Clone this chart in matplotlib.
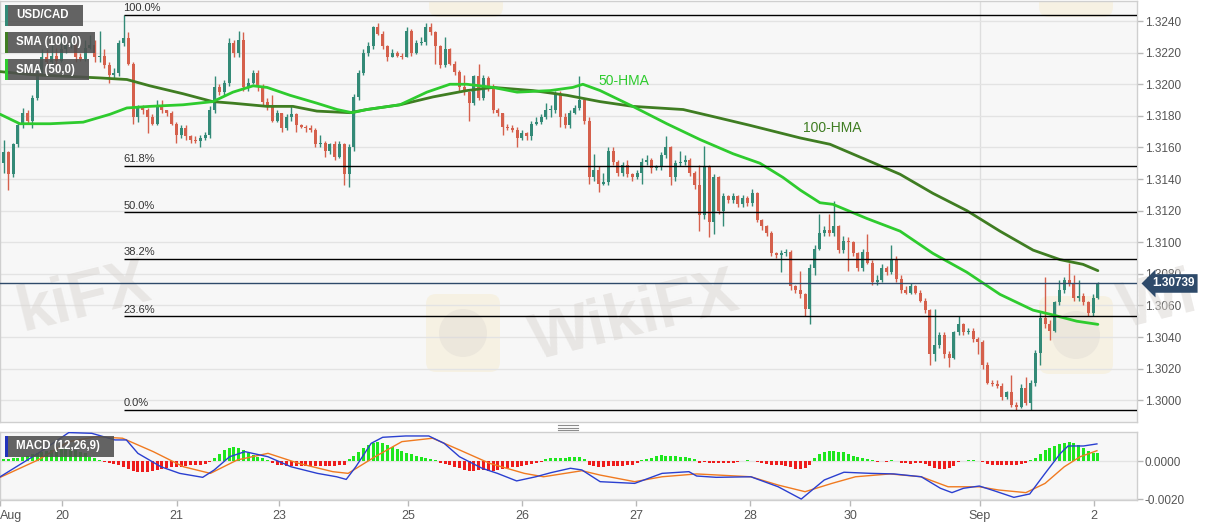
import numpy as np
import matplotlib
matplotlib.use('Agg')
import matplotlib.pyplot as plt
import matplotlib.transforms as mtransforms
from matplotlib.patches import Rectangle, FancyBboxPatch, Circle
from matplotlib.lines import Line2D

plt.rcParams['font.family'] = ['Liberation Sans', 'DejaVu Sans']

# ---- USD/CAD hourly candles (Aug 19 -> Sep 2) ----
first_open = 1.3150
closes = [
    1.3157, 1.3143, 1.3162, 1.3174, 1.3182, 1.3177, 1.3191, 1.3207, 1.3217, 1.3214,
    1.3218, 1.3215, 1.3222, 1.3225, 1.3226, 1.3217, 1.3216, 1.3223, 1.3225, 1.3217,
    1.3218, 1.3212, 1.3206, 1.3207, 1.3226, 1.3229, 1.3213, 1.3179, 1.3186, 1.3184,
    1.3179, 1.3175, 1.3187, 1.3184, 1.3182, 1.3175, 1.3168, 1.3172, 1.3167, 1.3165,
    1.3164, 1.3166, 1.3168, 1.3184, 1.3198, 1.3195, 1.3201, 1.3226, 1.3220, 1.3228,
    1.3198, 1.3201, 1.3207, 1.3198, 1.3189, 1.3186, 1.3177, 1.3182, 1.3172, 1.3179,
    1.3181, 1.3174, 1.3173, 1.3172, 1.3171, 1.3162, 1.3163, 1.3158, 1.3162, 1.3154,
    1.3162, 1.3143, 1.3160, 1.3192, 1.3207, 1.3220, 1.3224, 1.3236, 1.3232, 1.3224,
    1.3217, 1.3220, 1.3218, 1.3217, 1.3234, 1.3220, 1.3226, 1.3227, 1.3236, 1.3233,
    1.3224, 1.3212, 1.3222, 1.3213, 1.3208, 1.3198, 1.3195, 1.3188, 1.3205, 1.3191,
    1.3204, 1.3198, 1.3184, 1.3182, 1.3173, 1.3172, 1.3171, 1.3166, 1.3169, 1.3167,
    1.3175, 1.3176, 1.3179, 1.3184, 1.3184, 1.3194, 1.3179, 1.3174, 1.3182, 1.3185,
    1.3190, 1.3177, 1.3141, 1.3146, 1.3137, 1.3138, 1.3158, 1.3151, 1.3144, 1.3149,
    1.3143, 1.3141, 1.3144, 1.3151, 1.3152, 1.3147, 1.3148, 1.3155, 1.3160, 1.3141,
    1.3150, 1.3151, 1.3152, 1.3144, 1.3136, 1.3117, 1.3148, 1.3113, 1.3141, 1.3120,
    1.3129, 1.3127, 1.3129, 1.3124, 1.3128, 1.3125, 1.3131, 1.3114, 1.3110, 1.3106,
    1.3093, 1.3092, 1.3093, 1.3094, 1.3072, 1.3070, 1.3067, 1.3058, 1.3084, 1.3096,
    1.3106, 1.3108, 1.3106, 1.3110, 1.3095, 1.3101, 1.3100, 1.3093, 1.3084, 1.3094,
    1.3087, 1.3075, 1.3076, 1.3084, 1.3081, 1.3089, 1.3077, 1.3070, 1.3068, 1.3072,
    1.3068, 1.3063, 1.3057, 1.3029, 1.3035, 1.3041, 1.3029, 1.3027, 1.3043, 1.3048,
    1.3043, 1.3044, 1.3039, 1.3037, 1.3022, 1.3011, 1.3010, 1.3009, 1.3002, 1.3005,
    1.2997, 1.2996, 1.3008, 1.2998, 1.3011, 1.3030, 1.3052, 1.3048, 1.3044, 1.3062,
    1.3070, 1.3076, 1.3074, 1.3065, 1.3066, 1.3062, 1.3055, 1.3065, 1.30739,
]
highs = [
    1.3165, 1.3158, 1.3163, 1.3176, 1.3185, 1.3184, 1.3193, 1.3209, 1.3222, 1.3222,
    1.3225, 1.3223, 1.3232, 1.3229, 1.3231, 1.3228, 1.3220, 1.3228, 1.3231, 1.3228,
    1.3234, 1.3222, 1.3214, 1.3210, 1.3228, 1.3244, 1.3233, 1.3214, 1.3187, 1.3187,
    1.3185, 1.3181, 1.3190, 1.3190, 1.3184, 1.3183, 1.3176, 1.3174, 1.3174, 1.3168,
    1.3167, 1.3168, 1.3170, 1.3186, 1.3205, 1.3200, 1.3203, 1.3229, 1.3228, 1.3234,
    1.3233, 1.3204, 1.3209, 1.3209, 1.3200, 1.3191, 1.3193, 1.3184, 1.3182, 1.3181,
    1.3186, 1.3182, 1.3175, 1.3174, 1.3174, 1.3172, 1.3168, 1.3164, 1.3163, 1.3164,
    1.3164, 1.3163, 1.3162, 1.3194, 1.3209, 1.3222, 1.3227, 1.3237, 1.3239, 1.3234,
    1.3225, 1.3222, 1.3221, 1.3220, 1.3236, 1.3235, 1.3228, 1.3230, 1.3239, 1.3239,
    1.3234, 1.3225, 1.3230, 1.3223, 1.3215, 1.3209, 1.3206, 1.3196, 1.3206, 1.3213,
    1.3206, 1.3205, 1.3200, 1.3185, 1.3182, 1.3175, 1.3174, 1.3173, 1.3171, 1.3170,
    1.3177, 1.3179, 1.3181, 1.3188, 1.3187, 1.3196, 1.3196, 1.3182, 1.3184, 1.3187,
    1.3205, 1.3191, 1.3179, 1.3156, 1.3148, 1.3144, 1.3160, 1.3160, 1.3152, 1.3151,
    1.3152, 1.3144, 1.3146, 1.3153, 1.3155, 1.3153, 1.3149, 1.3157, 1.3167, 1.3161,
    1.3152, 1.3158, 1.3155, 1.3153, 1.3145, 1.3149, 1.3161, 1.3149, 1.3143, 1.3142,
    1.3131, 1.3130, 1.3131, 1.3130, 1.3130, 1.3129, 1.3134, 1.3132, 1.3115, 1.3111,
    1.3107, 1.3094, 1.3095, 1.3096, 1.3095, 1.3073, 1.3082, 1.3068, 1.3086, 1.3098,
    1.3118, 1.3110, 1.3118, 1.3126, 1.3111, 1.3104, 1.3103, 1.3101, 1.3094, 1.3096,
    1.3105, 1.3089, 1.3079, 1.3086, 1.3085, 1.3098, 1.3091, 1.3079, 1.3072, 1.3074,
    1.3073, 1.3070, 1.3065, 1.3058, 1.3058, 1.3043, 1.3043, 1.3031, 1.3044, 1.3053,
    1.3049, 1.3046, 1.3046, 1.3040, 1.3038, 1.3024, 1.3013, 1.3013, 1.3011, 1.3006,
    1.3016, 1.2999, 1.3010, 1.3015, 1.3013, 1.3032, 1.3056, 1.3078, 1.3051, 1.3063,
    1.3076, 1.3078, 1.3087, 1.3079, 1.3076, 1.3068, 1.3063, 1.3067, 1.3075,
]
lows = [
    1.3144, 1.3133, 1.3141, 1.3160, 1.3172, 1.3175, 1.3172, 1.3190, 1.3205, 1.3212,
    1.3213, 1.3213, 1.3214, 1.3220, 1.3223, 1.3214, 1.3215, 1.3215, 1.3222, 1.3214,
    1.3214, 1.3210, 1.3201, 1.3204, 1.3205, 1.3224, 1.3212, 1.3175, 1.3176, 1.3181,
    1.3169, 1.3174, 1.3174, 1.3182, 1.3180, 1.3174, 1.3163, 1.3166, 1.3165, 1.3163,
    1.3163, 1.3160, 1.3165, 1.3166, 1.3182, 1.3193, 1.3193, 1.3199, 1.3217, 1.3217,
    1.3196, 1.3196, 1.3200, 1.3196, 1.3187, 1.3184, 1.3176, 1.3176, 1.3170, 1.3171,
    1.3177, 1.3170, 1.3172, 1.3170, 1.3170, 1.3160, 1.3160, 1.3154, 1.3156, 1.3152,
    1.3153, 1.3136, 1.3135, 1.3158, 1.3190, 1.3206, 1.3218, 1.3222, 1.3231, 1.3222,
    1.3215, 1.3217, 1.3217, 1.3216, 1.3217, 1.3218, 1.3219, 1.3225, 1.3225, 1.3231,
    1.3213, 1.3210, 1.3211, 1.3212, 1.3206, 1.3196, 1.3193, 1.3177, 1.3187, 1.3190,
    1.3190, 1.3196, 1.3182, 1.3180, 1.3168, 1.3171, 1.3170, 1.3160, 1.3165, 1.3165,
    1.3165, 1.3174, 1.3175, 1.3178, 1.3179, 1.3182, 1.3173, 1.3172, 1.3172, 1.3181,
    1.3184, 1.3175, 1.3137, 1.3139, 1.3132, 1.3136, 1.3136, 1.3149, 1.3142, 1.3142,
    1.3141, 1.3139, 1.3140, 1.3137, 1.3149, 1.3144, 1.3146, 1.3146, 1.3153, 1.3136,
    1.3139, 1.3148, 1.3149, 1.3142, 1.3134, 1.3107, 1.3115, 1.3103, 1.3105, 1.3118,
    1.3110, 1.3125, 1.3125, 1.3122, 1.3122, 1.3123, 1.3123, 1.3113, 1.3108, 1.3104,
    1.3091, 1.3090, 1.3081, 1.3091, 1.3070, 1.3068, 1.3065, 1.3053, 1.3048, 1.3079,
    1.3095, 1.3104, 1.3104, 1.3104, 1.3093, 1.3093, 1.3082, 1.3091, 1.3082, 1.3082,
    1.3086, 1.3073, 1.3073, 1.3075, 1.3079, 1.3080, 1.3075, 1.3068, 1.3067, 1.3067,
    1.3067, 1.3062, 1.3055, 1.3022, 1.3025, 1.3033, 1.3027, 1.3021, 1.3026, 1.3041,
    1.3041, 1.3042, 1.3037, 1.3029, 1.3020, 1.3010, 1.3009, 1.3008, 1.3000, 1.3001,
    1.2996, 1.2994, 1.2995, 1.2997, 1.2994, 1.3009, 1.3022, 1.3046, 1.3038, 1.3043,
    1.3060, 1.3068, 1.3072, 1.3063, 1.3063, 1.3060, 1.3053, 1.3053, 1.3064,
]
last_price = 1.30739

# Hull moving averages, read at candle positions
hma50_x = [-0.7, 3.4, 9.7, 16.6, 22.2, 25.7, 30.5, 37.4, 43.6, 47.8, 52.0, 54.9, 59.7, 65.3, 69.5,
           72.6, 75.7, 82.6, 88.2, 93.0, 96.5, 102, 107, 113.9, 118.6, 120.7, 124.3, 131.1, 138.2,
           145.1, 152, 157.6, 162.4, 166, 170.1, 172.8, 179.9, 186.8, 193.6, 200.7, 207.6, 214.5,
           218.6, 223.6, 228]
hma50_y = [1.3181, 1.3175, 1.3175, 1.3176, 1.3181, 1.3185, 1.3186, 1.3187, 1.3189, 1.3195, 1.3199,
           1.3198, 1.3193, 1.3188, 1.3184, 1.3182, 1.3184, 1.3187, 1.3195, 1.3200, 1.3200, 1.3198,
           1.3195, 1.3196, 1.3198, 1.3200, 1.3196, 1.3186, 1.3175, 1.3165, 1.3156, 1.3150, 1.3141,
           1.3133, 1.3125, 1.3124, 1.3115, 1.3107, 1.3093, 1.3081, 1.3067, 1.3057, 1.3054, 1.3050,
           1.3048]
hma100_x = [-0.7, 6.2, 13.2, 20.1, 25.7, 30.5, 37.4, 43.6, 47.8, 54.9, 60.3, 65.3, 72.2, 75.7, 82.6,
            89.5, 96.5, 102, 110.3, 117.4, 124.3, 131.1, 141.6, 148.6, 155.5, 166, 172.2, 179.9,
            186.8, 193.6, 200.7, 207.6, 214.5, 220.1, 224.9, 228]
hma100_y = [1.3208, 1.3206, 1.3205, 1.3204, 1.3203, 1.3199, 1.3194, 1.3189, 1.3188, 1.3186, 1.3186,
            1.3183, 1.3182, 1.3184, 1.3187, 1.3192, 1.3196, 1.3198, 1.3196, 1.3193, 1.3189, 1.3186,
            1.3184, 1.3179, 1.3174, 1.3166, 1.3162, 1.3152, 1.3143, 1.3131, 1.3120, 1.3107, 1.3095,
            1.3089, 1.3086, 1.3082]

# MACD (12,26,9)
macd_hist = [
    0.0001, 0.0001, 0.00015, 0.0002, 0.00025, 0.0003, 0.0004, 0.00045, 0.0005, 0.00055,
    0.0006, 0.00062, 0.00065, 0.00065, 0.00062, 0.00058, 0.0005, 0.00042, 0.00025, 0.00015,
    0.00005, -0.00005, -0.0001, -0.00015, -0.0002, -0.0003, -0.0004, -0.0005, -0.00055, -0.00058,
    -0.00055, -0.0005, -0.00045, -0.0004, -0.00035, -0.0003, -0.0003, -0.00028, -0.00025, -0.00022,
    -0.0002, -0.00018, -0.00012, -0.00005, 0.0002, 0.0004, 0.0006, 0.0007, 0.00075, 0.0007,
    0.0006, 0.00045, 0.00035, 0.00025, 0.00015, 0.00005, -0.0001, -0.00018, -0.00022, -0.00025,
    -0.00025, -0.00025, -0.00025, -0.00025, -0.00025, -0.00025, -0.00025, -0.00025, -0.00025, -0.00025,
    -0.00022, -0.0002, 0.0001, 0.0003, 0.0005, 0.0007, 0.00085, 0.00095, 0.001, 0.00095,
    0.00085, 0.00075, 0.00065, 0.00055, 0.00045, 0.00038, 0.0003, 0.00022, 0.00015, 0.0001,
    0.00005, -0.00008, -0.00015, -0.00022, -0.0003, -0.00038, -0.00045, -0.0005, -0.0005, -0.00048,
    -0.00048, -0.0005, -0.0005, -0.00045, -0.0004, -0.00035, -0.0003, -0.00028, -0.00025, -0.0002,
    -0.00015, -0.0001, -0.00005, 0.0001, 0.00015, 0.0002, 0.0002, 0.0002, 0.00022, 0.00025,
    0.00022, 0.0001, -0.0002, -0.00025, -0.0003, -0.0003, -0.00025, -0.00025, -0.00025, -0.00025,
    -0.00022, -0.0002, -0.0001, 0.00005, 0.00012, 0.0002, 0.00028, 0.00033, 0.0003, 0.00028,
    0.00026, 0.00025, 0.00025, 0.0002, 0.00012, -0.0001, -0.00005, -0.0001, -0.0001, -0.0001,
    -0.0001, -0.0001, -0.00008, -0.00005, 0.00002, 0.00005, 0.00002, -0.00005, -0.0001, -0.00015,
    -0.0002, -0.0002, -0.00022, -0.00025, -0.0003, -0.0004, -0.00042, -0.00038, -0.0002, 0.0002,
    0.0004, 0.0005, 0.00055, 0.00052, 0.0005, 0.00048, 0.0004, 0.0003, 0.00022, 0.00015,
    0.00012, 0.00008, -0.00002, 0.00002, -0.00002, 0.00005, 0.00002, -0.00008, -0.0001, -0.00012,
    -0.0001, -0.0001, -0.00012, -0.00025, -0.00035, -0.0004, -0.0004, -0.00038, -0.00025, -0.00005,
    0.00003, 0.00005, 0.00005, 0.00003, -0.00005, -0.00015, -0.0002, -0.0002, -0.00022, -0.0002,
    -0.00022, -0.0002, -0.00015, -0.0001, 0.00005, 0.0002, 0.0004, 0.0006, 0.0007, 0.0008,
    0.0009, 0.00095, 0.001, 0.00095, 0.00085, 0.0007, 0.00055, 0.00045, 0.00045,
]
macd_x = [-0.7, 7.2, 13.6, 18.4, 23.2, 25.6, 28, 32.8, 36.7, 41.5, 43.9, 47.1, 50.3, 55.1, 59.9,
          65.4, 69.4, 71.4, 73.4, 76.6, 79, 83.8, 88.6, 91.8, 95, 99.7, 102.9, 106.9, 110.9, 114.1,
          118.1, 120.5, 124.3, 131.5, 137.2, 142.8, 144.4, 148.5, 155.7, 161.4, 166.2, 171, 175.1,
          180.7, 185.5, 191.2, 195.2, 197.6, 200, 203.3, 206.5, 210.5, 213.8, 217, 220.2, 221.8,
          225, 227.8]
macd_y = [-0.00082, 0.00042, 0.00152, 0.00148, 0.00113, 0.00113, 0.00042, -0.00029, -0.00064,
          -0.00085, -0.00046, 0.00024, 0.00051, 0.00024, -0.00029, -0.00064, -0.00082, -0.00096,
          -0.00029, 0.00095, 0.00127, 0.00134, 0.00134, 0.00095, 0.00024, -0.00037, -0.00064,
          -0.00104, -0.00082, -0.0006, -0.00037, -0.00046, -0.00108, -0.00117, -0.00064, -0.00055,
          -0.00078, -0.00085, -0.00082, -0.00135, -0.002, -0.00099, -0.00058, -0.00064, -0.00067,
          -0.00082, -0.00143, -0.00166, -0.00143, -0.00131, -0.00157, -0.00191, -0.00173, -0.00064,
          0.00042, 0.00081, 0.00081, 0.00092]
signal_x = [-0.7, 7.2, 13.6, 19.2, 24.8, 31.2, 37.5, 43.1, 48.7, 55.1, 61.5, 68.6, 71.8, 77.4, 83,
            89.4, 95, 101.3, 108.5, 112.5, 120.5, 124.3, 131.5, 137.2, 144.4, 155.7, 161.4, 167,
            172.6, 177.5, 184.7, 191.2, 196.8, 203.3, 207.3, 213, 217, 221, 224.3, 227.8]
signal_y = [-0.00085, 0.00007, 0.00104, 0.0013, 0.00122, 0.00051, -0.00029, -0.00064, 0.00007,
            0.00042, -0.00011, -0.00055, -0.00064, 0.00024, 0.00104, 0.00122, 0.0006, -0.00011,
            -0.00064, -0.00082, -0.0005, -0.00073, -0.00108, -0.00082, -0.00067, -0.00082, -0.00126,
            -0.00161, -0.00117, -0.00082, -0.00067, -0.00082, -0.00135, -0.00135, -0.00152, -0.00166,
            -0.00117, -0.00029, 0.00024, 0.00056]

fib_ratios = [0.0, 0.236, 0.382, 0.5, 0.618, 1.0]
fib_labels = ['0.0%', '23.6%', '38.2%', '50.0%', '61.8%', '100.0%']

date_pos = [12.2, 36.1, 57.4, 84.3, 108.0, 131.8, 155.5, 176.4, 203.4, 227.2]
date_labels = ['20', '21', '23', '25', '26', '27', '28', '30', 'Sep', '2']

TEAL = '#338a77'
RED = '#d5604c'
HMA50 = '#2ecb2e'
HMA100 = '#3f7d22'

W, H = 1207, 526
fig = plt.figure(figsize=(W / 100, H / 100), dpi=100)
fig.patch.set_facecolor('white')
PX = mtransforms.Affine2D().scale(1, -1).translate(0, H)  # pixel coords, origin top-left

XL = (-0.73, 236.15)
ax = fig.add_axes([0, 1 - 422 / H, 1137 / W, 421 / H])
axm = fig.add_axes([0, 1 - 500 / H, 1137 / W, 68 / H])

for a in (ax, axm):
    a.set_facecolor('#f7f7f7')
    a.set_xlim(*XL)
    for s in a.spines.values():
        s.set_color('#cfcfcf')
        s.set_linewidth(1)
    a.yaxis.tick_right()
    a.tick_params(axis='y', length=4, width=1, color='#b8b8b8', labelsize=8.5,
                  labelcolor='#555555', pad=1.5)
    a.axvline(203.4, color='#dedede', lw=1, zorder=0)
    a.set_axisbelow(True)

# ---- price panel ----
ax.set_ylim(1.29862, 1.32527)
ax.set_yticks(np.arange(1.3000, 1.32401, 0.002))
ax.set_yticklabels([f'{v:.4f}' for v in np.arange(1.3000, 1.32401, 0.002)])
ax.set_xticks([])
ax.grid(axis='y', color='#e3e3e3', lw=1)

# faint watermark (behind candles)
for cx, cy in [(463, 333), (1076, 335), (466, -22), (1076, -22)]:
    ax.add_patch(FancyBboxPatch((cx - 33, cy - 35), 66, 70, boxstyle='round,pad=4,rounding_size=10',
                                transform=PX, fc='#f5e8c0', ec='none', alpha=0.35, zorder=0.5))
    ax.add_patch(Circle((cx, cy), 24, transform=PX, fc='#d6d0cc', ec='none', alpha=0.3, zorder=0.6))
for cx, cy, txt in [(635, 318, 'WikiFX'), (84, 298, 'kiFX'), (1158, 302, 'Wi')]:
    ax.text(cx, cy, txt, transform=PX, fontsize=46, fontweight='bold', color='#d9d5d1',
            alpha=0.5, rotation=14, ha='center', va='center', zorder=0.7, clip_on=False)

idx = np.arange(len(closes))
c = np.array(closes)
o = np.array([first_open] + closes[:-1])
colors = np.where(c >= o, TEAL, RED)
ax.vlines(idx, lows, highs, colors=colors, lw=1, zorder=3)
ax.bar(idx, np.maximum(np.abs(c - o), 0.00003), bottom=np.minimum(o, c), width=0.62,
       color=colors, lw=0, zorder=4)

ax.plot(hma100_x, hma100_y, color=HMA100, lw=2, zorder=5, solid_capstyle='round')
ax.plot(hma50_x, hma50_y, color=HMA50, lw=2, zorder=5, solid_capstyle='round')
ax.text(123.9, 1.3202, '50-HMA', color=HMA50, fontsize=10, va='center', ha='left', zorder=6)
ax.text(166.6, 1.3172, '100-HMA', color=HMA100, fontsize=10, va='center', ha='left', zorder=6)

# fibonacci retracement from the swing high to the swing low
hi_i = int(np.argmax(highs))
swing_hi, swing_lo = max(highs), min(lows)
for r, lab in zip(fib_ratios, fib_labels):
    lvl = swing_lo + r * (swing_hi - swing_lo)
    ax.hlines(lvl, hi_i, XL[1], color='black', lw=1, zorder=5)
    ax.annotate(lab, (hi_i, lvl), xytext=(0, 1), textcoords='offset points', ha='left',
                va='bottom', fontsize=8, color='#333333', zorder=6)

ax.axhline(last_price, color='#2e4a6a', lw=1, zorder=5)
blend = mtransforms.blended_transform_factory(ax.transAxes, ax.transData)
ax.text(1.013, last_price, f'{last_price:.5f}', transform=blend, ha='left', va='center',
        fontsize=8.5, fontweight='bold', color='white', clip_on=False, zorder=10,
        bbox=dict(boxstyle='larrow,pad=0.28', fc='#2e4a6a', ec='none'))

# ---- MACD panel ----
axm.set_ylim(-0.00205, 0.00155)
axm.set_yticks([0.0, -0.002])
axm.set_yticklabels(['0.0000', '-0.0020'])
axm.grid(axis='y', color='#e3e3e3', lw=1)
hist = np.array(macd_hist)
axm.bar(np.arange(len(hist)), hist, width=0.6, color=np.where(hist >= 0, '#1ee61e', '#ee1c1c'),
        lw=0, zorder=3)
axm.plot(signal_x, signal_y, color='#f07a20', lw=1, zorder=4)
axm.plot(macd_x, macd_y, color='#2a3fd0', lw=1, zorder=4)
axm.set_xticks([-0.73] + date_pos)
axm.set_xticklabels(['Aug'] + date_labels)
axm.tick_params(axis='x', length=4, width=1, color='#b8b8b8', labelsize=9,
                labelcolor='#555555', pad=3)
axm.get_xticklabels()[0].set_ha('left')

# ---- overlay labels ----
def legend_box(x, y, w, h, strip, text):
    fig.add_artist(Rectangle((x, y), w, h, transform=PX, fc='#4f4f4f', ec='none', alpha=0.88))
    fig.add_artist(Rectangle((x, y), 2.5, h, transform=PX, fc=strip, ec='none'))
    fig.text(x + 11, y + h / 2, text, transform=PX, color='white', fontsize=8.3,
             fontweight='bold', ha='left', va='center')

legend_box(5, 5, 78, 21, TEAL, 'USD/CAD')
legend_box(5, 32, 90, 21, HMA100, 'SMA (100,0)')
legend_box(5, 59, 84, 21, HMA50, 'SMA (50,0)')
legend_box(5, 436, 109, 21, '#2233bb', 'MACD (12,26,9)')

# panel splitter handle
for yy in (425, 427.5, 430):
    fig.add_artist(Line2D([558, 578], [yy, yy], transform=PX, color='#8c8c8c', lw=0.8))

fig.savefig('out.png', dpi=100, facecolor='white')
